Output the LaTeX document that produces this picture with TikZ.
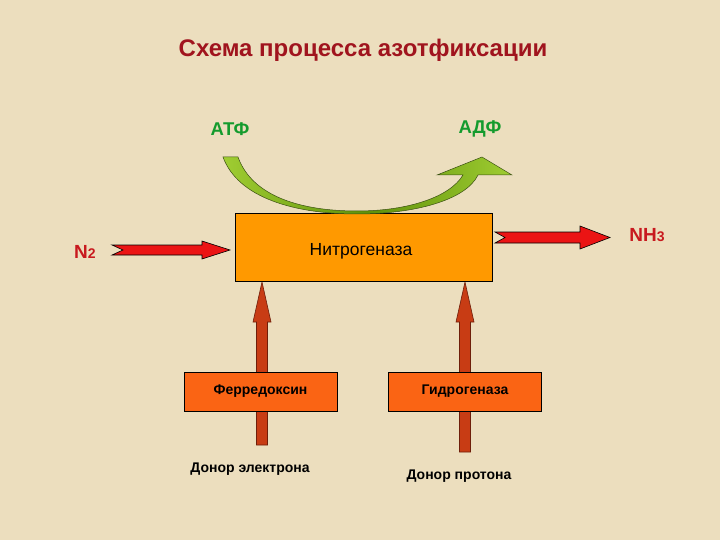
\documentclass[tikz,border=0pt]{standalone}
\usepackage{fontspec}
\setmainfont{Liberation Sans}
\usetikzlibrary{calc}
\definecolor{bgc}{RGB}{236,222,190}
\definecolor{titlec}{RGB}{160,20,30}
\definecolor{greenlab}{RGB}{20,155,45}
\definecolor{nred}{RGB}{200,25,30}
\definecolor{mainorange}{RGB}{255,153,0}
\definecolor{suborange}{RGB}{250,100,20}
\definecolor{brownarrow}{RGB}{200,60,20}
\definecolor{arrowred}{RGB}{235,20,20}
\definecolor{gdark}{RGB}{95,145,10}
\definecolor{glight}{RGB}{160,205,50}
\tikzset{
  mainbox/.style={draw=black, line width=0.8pt, fill=mainorange, minimum width=257pt, minimum height=68pt, inner sep=0pt},
  subbox/.style={draw=black, line width=0.8pt, fill=suborange, minimum width=153pt, minimum height=39pt, inner sep=0pt, font=\bfseries\fontsize{14}{16}\selectfont},
  title/.style={font=\bfseries\fontsize{24}{28}\selectfont, text=titlec},
  greenlab/.style={font=\bfseries\fontsize{18.5}{20}\selectfont, text=greenlab},
  chemlab/.style={font=\bfseries\fontsize{19}{21}\selectfont, text=nred},
  donor/.style={font=\bfseries\fontsize{14}{16}\selectfont},
  redarrow/.style={draw=black, line width=0.6pt, fill=arrowred},
  brownarr/.style={draw={rgb,255:red,110;green,30;blue,10}, line width=0.6pt, fill=brownarrow},
}
\begin{document}
\begin{tikzpicture}[x=1pt,y=-1pt]
\fill[bgc] (0,0) rectangle (720,540);
\useasboundingbox (0,0) rectangle (720,540);

% title and labels
\node[title] (t) at (363,50) {Схема процесса азотфиксации};
\node[greenlab] (atf) at (230,129) {АТФ};
\node[greenlab] (adf) at (480,129) {АДФ};
\node[chemlab] (n2) at (85,252) {N{\fontsize{14}{15}\selectfont 2}};
\node[chemlab] (nh3) at (647,235) {NH{\fontsize{14}{15}\selectfont 3}};

% vertical arrows (behind boxes)
\coordinate (la0) at (262,445);
\coordinate (la1) at (262,282);
\coordinate (ra0) at (465,452);
\coordinate (ra1) at (465,282);
\foreach \s/\e in {la0/la1, ra0/ra1}{
  \draw[brownarr] ($(\s)+(-5.5,0)$) -- ($(\e)+(-5.5,40)$) -- ($(\e)+(-9,40)$) -- (\e)
     -- ($(\e)+(9,40)$) -- ($(\e)+(5.5,40)$) -- ($(\s)+(5.5,0)$) -- cycle;
}

% boxes
\node[mainbox] (nit) at (363.5,247) {};
\node[font=\fontsize{17.5}{19}\selectfont] (nittext) at (361,251) {Нитрогеназа};
\node[subbox] (fer) at (260.5,391.5) {Ферредоксин};
\node[subbox] (hyd) at (465,391.5) {Гидрогеназа};
\node[donor] (de) at (250,469) {Донор электрона};
\node[donor] (dp) at (459,476) {Донор протона};

% horizontal red arrows
\coordinate (h1s) at (112,250);
\coordinate (h1e) at (230,250);
\draw[redarrow] (h1s) ++(0,-5) -- ($(h1e)+(-28,-5)$) -- ($(h1e)+(-28,-9)$) -- (h1e)
   -- ($(h1e)+(-28,9)$) -- ($(h1e)+(-28,5)$) -- ($(h1s)+(0,5)$) -- ($(h1s)+(11,0)$) -- cycle;
\coordinate (h2s) at (495,237.5);
\coordinate (h2e) at (610,237.5);
\draw[redarrow] (h2s) ++(0,-5.5) -- ($(h2e)+(-30,-5.5)$) -- ($(h2e)+(-30,-11.5)$) -- (h2e)
   -- ($(h2e)+(-30,11.5)$) -- ($(h2e)+(-30,5.5)$) -- ($(h2s)+(0,5.5)$) -- ($(h2s)+(10,0)$) -- cycle;

% green curved arrow
\draw[draw={rgb,255:red,60;green,80;blue,20}, line width=0.5pt, left color=glight, right color=glight, middle color=gdark]
  (223,157) .. controls (238,198) and (295,214) .. (357,214)
  .. controls (415,214) and (466,200) .. (478,175)
  -- (512,175) -- (482,157) -- (437,175) -- (463,175)
  .. controls (450,197) and (408,211) .. (357,211)
  .. controls (300,211) and (252,196) .. (238,157) -- cycle;
\end{tikzpicture}
\end{document}
